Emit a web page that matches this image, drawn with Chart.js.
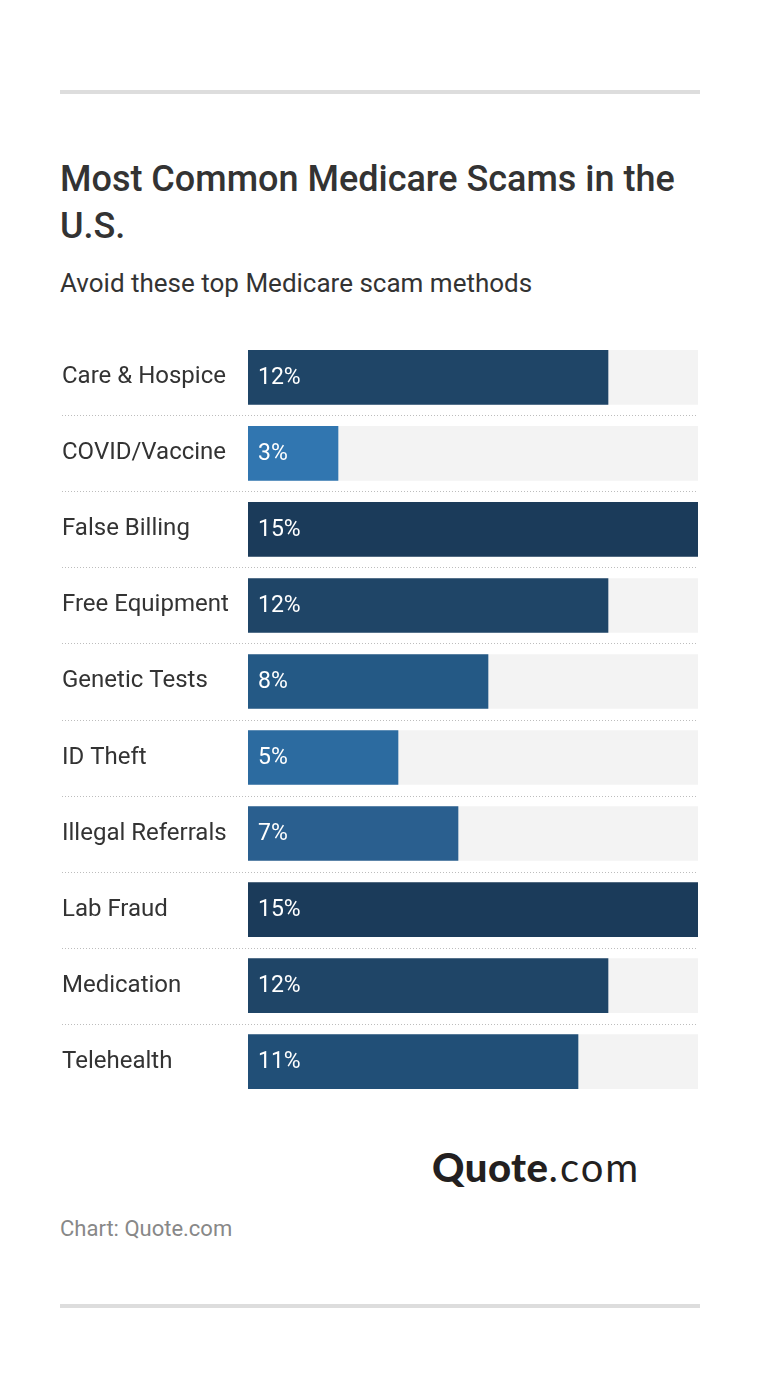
<!DOCTYPE html>
<html>
<head>
<meta charset="utf-8">
<script src="https://cdn.jsdelivr.net/npm/chart.js@4"></script>
<style>
  body { margin: 0; background: #fff; width: 760px; height: 1388px; position: relative; font-family: Roboto, sans-serif; }
  .rule { position: absolute; left: 60px; width: 640px; height: 4px; background: #dddddd; }
  #title { position: absolute; left: 60px; top: 156px; width: 640px; font-size: 36px; font-weight: 500; line-height: 47px; color: #333; }
  #subtitle { position: absolute; left: 60px; top: 268px; font-size: 26px; color: #333; }
  #wrap { position: absolute; left: 0; top: 325px; width: 760px; height: 789px; }
  #logo { position: absolute; left: 432px; top: 1143px; font-family: Lato, sans-serif; font-size: 40px; color: #231f20; letter-spacing: 0.5px; }
  #logo b { font-weight: 900; }
  #logo span { letter-spacing: 2px; }
  #source { position: absolute; left: 60px; top: 1216px; font-size: 22px; color: #888; }
</style>
</head>
<body>
<div class="rule" style="top:90px"></div>
<div id="title">Most Common Medicare Scams in the U.S.</div>
<div id="subtitle">Avoid these top Medicare scam methods</div>
<div id="wrap"><canvas id="chart"></canvas></div>
<div id="logo"><b>Quote</b><span>.com</span></div>
<div id="source">Chart: Quote.com</div>
<div class="rule" style="top:1304px"></div>
<script>
const categories = ["Care & Hospice", "COVID/Vaccine", "False Billing", "Free Equipment", "Genetic Tests",
                    "ID Theft", "Illegal Referrals", "Lab Fraud", "Medication", "Telehealth"];
const shares = [12, 3, 15, 12, 8, 5, 7, 15, 12, 11];
const scaleMax = 15;
const barColors = ["#1f4567", "#3176b0", "#1b3b5a", "#1f4567", "#245985",
                   "#2c6ba0", "#2a5f8f", "#1b3b5a", "#1f4567", "#214f77"];

// dotted lines between rows, running under the labels too
const separators = {
  id: 'separators',
  beforeDatasetsDraw(chart) {
    const ctx = chart.ctx, y = chart.scales.y;
    ctx.save();
    ctx.strokeStyle = '#bdbdbd';
    ctx.lineWidth = 1;
    ctx.setLineDash([1, 2]);
    for (let i = 0; i < categories.length - 1; i++) {
      const py = Math.round((y.getPixelForValue(i) + y.getPixelForValue(i + 1)) / 2) + 0.5;
      ctx.beginPath();
      ctx.moveTo(62, py);
      ctx.lineTo(chart.chartArea.right, py);
      ctx.stroke();
    }
    ctx.restore();
  }
};

// value text inside the bars
const valueLabels = {
  id: 'valueLabels',
  afterDatasetsDraw(chart) {
    const ctx = chart.ctx;
    const meta = chart.getDatasetMeta(1);
    ctx.save();
    ctx.fillStyle = '#fff';
    ctx.font = '23px Roboto';
    ctx.textBaseline = 'middle';
    meta.data.forEach(function(bar, i) {
      ctx.fillText(shares[i] + '%', bar.base + 10, bar.y + 1);
    });
    ctx.restore();
  }
};

new Chart(document.getElementById('chart'), {
  type: 'bar',
  data: {
    labels: categories,
    datasets: [{
      label: 'track',
      data: categories.map(() => scaleMax),
      backgroundColor: '#f3f3f3',
      order: 2
    }, {
      label: 'Share',
      data: shares,
      backgroundColor: barColors,
      order: 1
    }]
  },
  options: {
    indexAxis: 'y',
    responsive: true,
    maintainAspectRatio: false,
    animation: false,
    layout: { padding: { left: 62, right: 62, top: 0, bottom: 0 } },
    datasets: { bar: { grouped: false, barThickness: 54, borderWidth: 0 } },
    scales: {
      x: { display: false, min: 0, max: scaleMax },
      y: {
        afterFit(scale) { scale.width = 186; },
        grid: { display: false },
        border: { display: false },
        ticks: {
          crossAlign: 'far',
          color: '#333',
          font: { family: 'Roboto', size: 24 },
          padding: 0
        }
      }
    },
    plugins: {
      legend: { display: false },
      tooltip: { enabled: false }
    }
  },
  plugins: [separators, valueLabels]
});
</script>
</body>
</html>
